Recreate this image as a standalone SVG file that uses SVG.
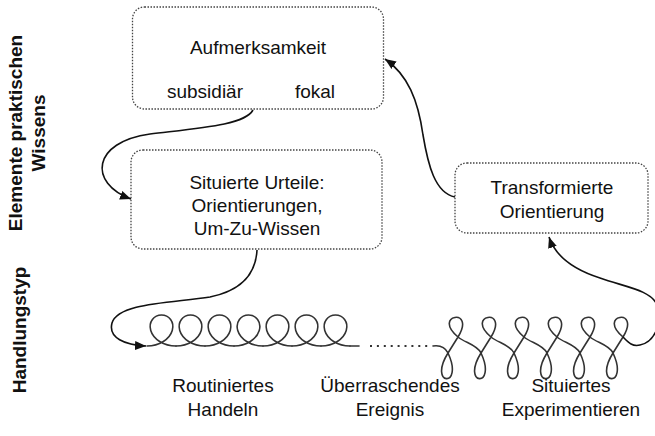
<svg xmlns="http://www.w3.org/2000/svg" xmlns:xlink="http://www.w3.org/1999/xlink" width="655" height="436" viewBox="0 0 655 436">
<style>
.box{fill:#fff;stroke:#444;stroke-width:1.3;stroke-dasharray:1.5 1.5}
.t{font-family:"Liberation Sans",Arial,sans-serif;font-size:19px;fill:#111;text-anchor:middle}
.b{font-weight:bold}
.conn{fill:none;stroke:#111;stroke-width:1.6}
.spiral{fill:none;stroke:#333;stroke-width:1.6;stroke-linecap:round;stroke-linejoin:round}
</style>
<defs>
<marker id="arr" markerUnits="userSpaceOnUse" markerWidth="12" markerHeight="10" refX="11" refY="4.5" orient="auto">
<path d="M0,0 L11,4.5 L0,9 z" fill="#111"/>
</marker>
<path id="loop" d="M0,0 c5.921,0 11.813,-1.671 16.353,-4.54 c4.54,-2.869 7.689,-6.902 8.897,-10.96 c1.208,-4.058 0.477,-8.091 -1.647,-10.96 c-2.124,-2.869 -5.599,-4.54 -9.103,-4.54 c-3.504,0 -6.979,1.671 -9.103,4.54 c-2.124,2.869 -2.855,6.902 -1.647,10.96 c1.208,4.058 4.357,8.091 8.897,10.96 c4.54,2.869 10.432,4.54 16.353,4.54"/>
</defs>

<g id="label-elemente">
<text class="t b" transform="translate(22,133) rotate(-90)">Elemente praktischen</text>
<text class="t b" transform="translate(45,133) rotate(-90)">Wissens</text>
</g>
<g id="label-handlungstyp">
<text class="t b" transform="translate(26,330) rotate(-90)">Handlungstyp</text>
</g>

<g id="aufmerksamkeit">
<rect class="box" x="132.5" y="7" width="251" height="102" rx="12"/>
<text class="t" x="258" y="54">Aufmerksamkeit</text>
<text class="t" x="205" y="98">subsidiär</text>
<text class="t" x="315" y="98">fokal</text>
</g>

<g id="urteile">
<rect class="box" x="131" y="150" width="251" height="99" rx="12"/>
<text class="t" x="257" y="189">Situierte Urteile:</text>
<text class="t" x="257" y="212">Orientierungen,</text>
<text class="t" x="257" y="235">Um-Zu-Wissen</text>
</g>

<g id="transformierte">
<rect class="box" x="455" y="163" width="193" height="70" rx="12"/>
<text class="t" x="552" y="194">Transformierte</text>
<text class="t" x="552" y="218">Orientierung</text>
</g>

<g id="routine-loops" class="spiral">
<use xlink:href="#loop" x="147" y="346"/>
<use xlink:href="#loop" x="176" y="346"/>
<use xlink:href="#loop" x="205" y="346"/>
<use xlink:href="#loop" x="234" y="346"/>
<use xlink:href="#loop" x="263" y="346"/>
<use xlink:href="#loop" x="292" y="346"/>
<use xlink:href="#loop" x="321" y="346"/>
<path d="M350,346 L359,346"/>
</g>

<g id="ereignis-dots">
<line x1="370" y1="346" x2="428" y2="346" stroke="#333" stroke-width="2" stroke-dasharray="2 4.9"/>
</g>

<g id="experiment-loops" class="spiral">
<path d="M433,346 c7,-1 12,1 15,7
c16.5,35.33 -20.67,33.07 0,0 l10,-16 c18.55,-29.68 -26.81,-22.5 0,0 c6.9,5.8 19.2,7.85 23,16
c16.5,35.33 -20.67,33.07 0,0 l10,-16 c18.55,-29.68 -26.81,-22.5 0,0 c6.9,5.8 19.2,7.85 23,16
c16.5,35.33 -20.67,33.07 0,0 l10,-16 c18.55,-29.68 -26.81,-22.5 0,0 c6.9,5.8 19.2,7.85 23,16
c16.5,35.33 -20.67,33.07 0,0 l10,-16 c18.55,-29.68 -26.81,-22.5 0,0 c6.9,5.8 19.2,7.85 23,16
c16.5,35.33 -20.67,33.07 0,0 l10,-16 c18.55,-29.68 -26.81,-22.5 0,0 c6.9,5.8 19.2,7.85 23,16
c16.5,35.33 -20.67,33.07 0,0 l10,-16 c18.55,-29.68 -26.81,-22.5 0,0"/>
</g>

<g id="connectors">
<path class="conn" d="M253,110 C245,125 200,128 150,134 C92,142 88,183 131,199" marker-end="url(#arr)"/>
<path class="conn" d="M257,250 C256,270 245,290 210,297 C170,303 118,303 112,323 C108,338 125,345 146,346" marker-end="url(#arr)"/>
<path class="conn" d="M455,197 C435,193 428,165 423,135 C418,100 408,75 385,59" marker-end="url(#arr)"/>
<path class="conn" d="M623,337 C628,342 632,347 640,345 C655,342 663,322 657,305 C651,290 625,287 600,278 C575,270 556,258 549,237" marker-end="url(#arr)"/>
</g>

<g id="labels-bottom">
<text class="t" x="223" y="392">Routiniertes</text>
<text class="t" x="223" y="416">Handeln</text>
<text class="t" x="390" y="392">Überraschendes</text>
<text class="t" x="390" y="416">Ereignis</text>
<text class="t" x="571" y="392">Situiertes</text>
<text class="t" x="571" y="416">Experimentieren</text>
</g>
</svg>
